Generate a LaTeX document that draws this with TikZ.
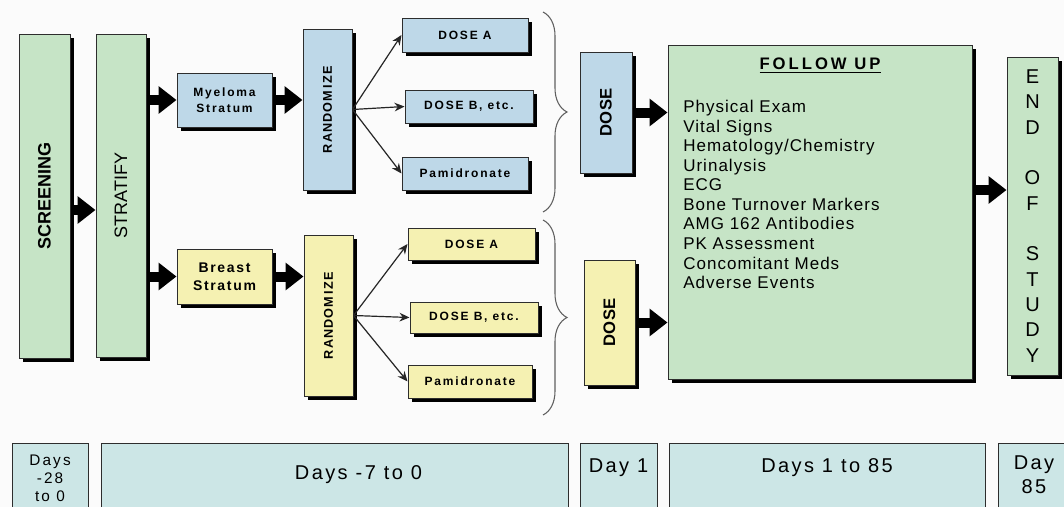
\documentclass[tikz,border=0pt]{standalone}
\usepackage{fontspec}
\setmainfont{Liberation Sans}
\usepackage{tikz}
\usetikzlibrary{arrows.meta, shadows, decorations.pathreplacing}
\definecolor{verdeF}{RGB}{198,228,198}
\definecolor{azulF}{RGB}{190,216,232}
\definecolor{amarF}{RGB}{245,241,178}
\definecolor{cianF}{RGB}{204,230,230}
\definecolor{bordeC}{RGB}{45,45,45}
\definecolor{llaveC}{RGB}{95,95,95}
\definecolor{fondoC}{RGB}{251,251,251}
\newcommand{\vtext}[1]{\rotatebox{90}{#1}}
\newcommand{\fsz}[3]{\fontsize{#1}{#2}\selectfont\addfontfeature{LetterSpace=#3}}

\begin{document}
\begin{tikzpicture}[x=0.75pt, y=-0.75pt,
  box/.style={rectangle, draw=bordeC, line width=0.75pt, inner sep=0pt, text centered,
              drop shadow={shadow xshift=3pt, shadow yshift=-3pt, fill=black, opacity=1}},
  grn/.style={box, fill=verdeF},
  blu/.style={box, fill=azulF},
  yel/.style={box, fill=amarF},
  tall/.style={font=\bfseries\fsz{9.5}{11}{8}, minimum width=36.75pt, minimum height=120.75pt},
  dbox/.style={font=\bfseries\fsz{9}{11}{15}},
  dosebox/.style={font=\bfseries\fsz{12.5}{14}{2}},
  day/.style={rectangle, draw=bordeC, line width=0.75pt, fill=cianF, inner sep=0pt,
              anchor=north, minimum height=57.75pt},
  dtxt/.style={font=\fsz{15}{18.5}{12}, inner sep=0pt, align=center},
  blk/.style={line width=7.5pt, -{Triangle[length=13.5pt, width=20pt]}},
  thn/.style={line width=0.9pt, draw=black!85, -{Stealth[length=7.5pt, width=6.5pt]}},
  brc/.style={decorate, decoration={brace, amplitude=18pt}, draw=llaveC, line width=0.8pt}
]
  \fill[fondoC] (0,0) rectangle (1064,507);
  \clip (0,0) rectangle (1064,507);

  % first columns
  \node[grn, minimum width=38.25pt, minimum height=243pt, font=\bfseries\fsz{13.5}{15}{0}]
    (screen) at (44.5,196) {\vtext{SCREENING}};
  \node[grn, minimum width=37.5pt, minimum height=242.25pt, font=\fsz{13.5}{15}{0}]
    (strat) at (121,195.5) {\vtext{STRATIFY}};

  \node[blu, minimum width=71.25pt, minimum height=40.5pt, align=center,
        font=\bfseries\fsz{9}{12}{15}] (myel) at (224.5,100) {Myeloma\\Stratum};
  \node[yel, minimum width=71.25pt, minimum height=41.25pt, align=center,
        font=\bfseries\fsz{10.5}{13.5}{12}] (brst) at (224.5,276.5) {Breast\\Stratum};

  \node[blu, tall] (rand1) at (327.5,109.5) {\vtext{RANDOM\,I\,ZE}};
  \node[yel, tall] (rand2) at (328.5,315.5) {\vtext{RANDOM\,I\,ZE}};

  % dose arms
  \node[blu, dbox, minimum width=94.5pt, minimum height=25.5pt] (dA1) at (465,35) {DOSE A};
  \node[blu, dbox, minimum width=96pt, minimum height=24.75pt] (dB1) at (469,106.5) {DOSE B, etc.};
  \node[blu, dbox, minimum width=94.5pt, minimum height=24.75pt] (pm1) at (465,173.5) {Pamidronate};
  \node[yel, dbox, minimum width=95.25pt, minimum height=24pt] (dA2) at (471.5,244) {DOSE A};
  \node[yel, dbox, minimum width=96pt, minimum height=23.25pt] (dB2) at (474,317.5) {DOSE B, etc.};
  \node[yel, dbox, minimum width=93pt, minimum height=24.75pt] (pm2) at (470,381.5) {Pamidronate};

  \coordinate (br1t) at (543,12);
  \coordinate (br1b) at (543,212);
  \coordinate (br2t) at (543,220);
  \coordinate (br2b) at (543,415);
  \draw[brc] (br1t) -- (br1b);
  \draw[brc] (br2t) -- (br2b);

  \node[blu, dosebox, minimum width=39pt, minimum height=90.75pt] (dose1) at (606,112.5) {\vtext{DOSE}};
  \node[yel, dosebox, minimum width=38.25pt, minimum height=93.75pt] (dose2) at (609.5,322.5) {\vtext{DOSE}};

  % follow up and end
  \node[grn, minimum width=228pt, minimum height=250.5pt] (follow) at (820,212) {};
  \node[inner sep=0pt, anchor=north, font=\bfseries\fsz{12.5}{14}{18}] (fuhead) at (820,58)
    {\underline{FOLLOW UP}};
  \node[inner sep=0pt, anchor=north west, align=left, font=\fsz{12.75}{14.67}{6}] (fulist) at (683,100)
    {Physical Exam\\Vital Signs\\Hematology/Chemistry\\Urinalysis\\ECG\\Bone Turnover Markers\\
     AMG 162 Antibodies\\PK Assessment\\Concomitant Meds\\Adverse Events};

  \node[grn, minimum width=38.25pt, minimum height=238.5pt, align=center, font=\fsz{15}{19}{0}]
    (endst) at (1032.5,216) {E\\N\\D\\[19pt]O\\F\\[19pt]S\\T\\U\\D\\Y};

  % connectors
  \coordinate (scout) at ([yshift=-10.5pt]screen.east);
  \draw[blk] (scout) -- (scout -| strat.west);
  \draw[blk] (strat.east |- myel.west) -- (myel.west);
  \draw[blk] (strat.east |- brst.west) -- (brst.west);
  \draw[blk] (myel.east) -- (myel.east -| rand1.west);
  \draw[blk] (brst.east) -- (brst.east -| rand2.west);
  \draw[thn] (rand1.east) -- (dA1.west);
  \draw[thn] (rand1.east) -- (dB1.west);
  \draw[thn] (rand1.east) -- (pm1.west);
  \draw[thn] (rand2.east) -- (dA2.west);
  \draw[thn] (rand2.east) -- (dB2.west);
  \draw[thn] (rand2.east) -- (pm2.west);
  \draw[blk] (dose1.east) -- (dose1.east -| follow.west);
  \draw[blk] (dose2.east) -- (dose2.east -| follow.west);
  \coordinate (fuout) at ([yshift=16.5pt]follow.east);
  \draw[blk] (fuout) -- (fuout -| endst.west);

  % timeline
  \node[day, minimum width=57pt, label={[dtxt, font=\fsz{11.5}{13.5}{14}, below=9pt]north:Days\\-28\\to 0}]
    (tl1) at (50,443) {};
  \node[day, minimum width=350.25pt, label={[dtxt, below=16.5pt, xshift=18pt]north:Days -7 to 0}]
    (tl2) at (334.5,443) {};
  \node[day, minimum width=57.75pt, label={[dtxt, below=11.25pt]north:Day 1}]
    (tl3) at (618.5,443) {};
  \node[day, minimum width=237pt, label={[dtxt, below=11.25pt]north:Days 1 to 85}]
    (tl4) at (827,443) {};
  \node[day, minimum width=54pt, label={[dtxt, below=9pt]north:Day\\85}]
    (tl5) at (1034,443) {};
\end{tikzpicture}
\end{document}
